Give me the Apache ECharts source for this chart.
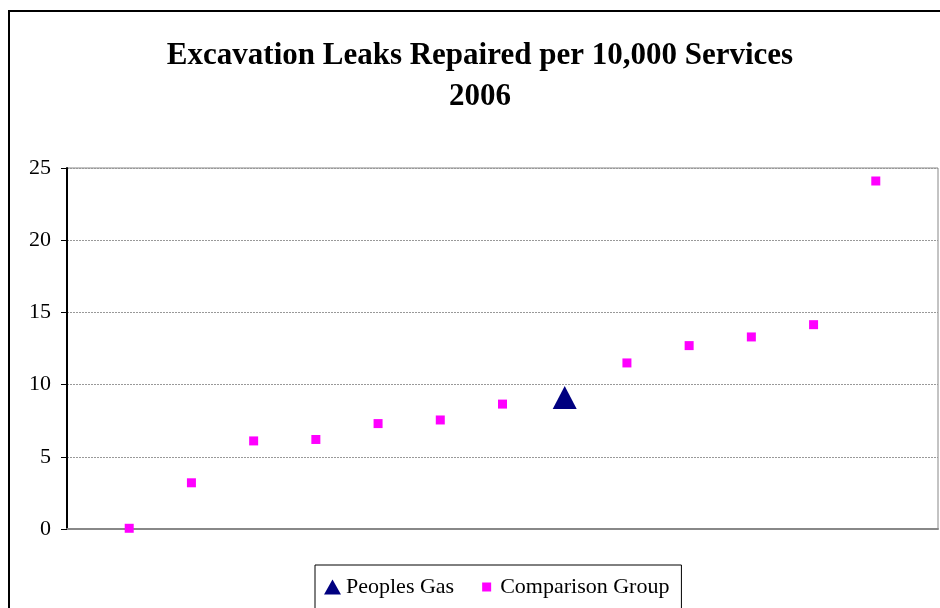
<!DOCTYPE html>
<html>
<head>
<meta charset="utf-8">
<script src="https://cdn.jsdelivr.net/npm/echarts@6/dist/echarts.min.js"></script>
<style>
  html, body { margin: 0; padding: 0; background: #fff; }
  #chart { width: 940px; height: 608px; }
</style>
</head>
<body>
<div id="chart"></div>
<script>
// positions along the x axis (slots 0..14, points sit on 1..13)
const slots = ['', '1', '2', '3', '4', '5', '6', '7', '8', '9', '10', '11', '12', '13', ''];
// excavation leaks repaired per 10,000 services, 2006
const peoplesGas = [null, null, null, null, null, null, null, null, 9.1, null, null, null, null, null, null];
const comparisonGroup = [null, 0.05, 3.2, 6.1, 6.2, 7.3, 7.55, 8.65, null, 11.5, 12.7, 13.3, 14.15, 24.1, null];
const yTicks = [0, 25, 5];

const serif = '"Liberation Serif", "DejaVu Serif", serif';
const chart = echarts.init(document.getElementById('chart'));

chart.setOption({
    animation: false,
    backgroundColor: '#fff',
    title: {
        text: 'Excavation Leaks Repaired per 10,000 Services\n2006',
        left: 475,
        top: 30,
        textAlign: 'center',
        textStyle: {
            fontFamily: serif,
            fontWeight: 'bold',
            fontSize: 31,
            lineHeight: 41,
            color: '#000'
        }
    },
    graphic: [{
        type: 'rect',
        shape: { x: 9, y: 11, width: 1000, height: 700 },
        style: { fill: 'none', stroke: '#000', lineWidth: 2 },
        silent: true
    }],
    legend: {
        left: 315,
        top: 565,
        width: 369,
        padding: [11, 12, 11, 9],
        borderColor: '#000',
        borderWidth: 1,
        itemGap: 24,
        itemWidth: 17,
        itemHeight: 15,
        textStyle: { fontFamily: serif, fontSize: 22, color: '#000' },
        data: [
            { name: 'Peoples Gas', icon: 'triangle' },
            { name: 'Comparison Group', icon: 'path://M0,0M17,15M4,3h9v9h-9z' }
        ]
    },
    grid: {
        left: 67,
        right: 2,
        top: 168,
        bottom: 79,
        show: true,
        borderColor: '#888',
        borderWidth: 1
    },
    xAxis: {
        type: 'category',
        data: slots,
        boundaryGap: false,
        axisLine: { lineStyle: { color: '#888', width: 2 } },
        axisTick: { show: false },
        axisLabel: { show: false },
        splitLine: { show: false }
    },
    yAxis: {
        type: 'value',
        min: yTicks[0],
        max: yTicks[1],
        interval: yTicks[2],
        axisLine: { show: true, lineStyle: { color: '#000', width: 2 } },
        axisTick: { show: true, length: 6, lineStyle: { color: '#000' } },
        axisLabel: { margin: 16, fontFamily: serif, fontSize: 22, color: '#000' },
        splitLine: { lineStyle: { color: '#999', type: [2, 1] } }
    },
    series: [
        {
            name: 'Peoples Gas',
            type: 'scatter',
            symbol: 'triangle',
            symbolSize: [24, 23],
            itemStyle: { color: '#000080', opacity: 1 },
            data: peoplesGas,
            z: 3
        },
        {
            name: 'Comparison Group',
            type: 'scatter',
            symbol: 'rect',
            symbolSize: 9,
            itemStyle: { color: '#ff00ff', opacity: 1 },
            data: comparisonGroup
        }
    ]
});
</script>
</body>
</html>
